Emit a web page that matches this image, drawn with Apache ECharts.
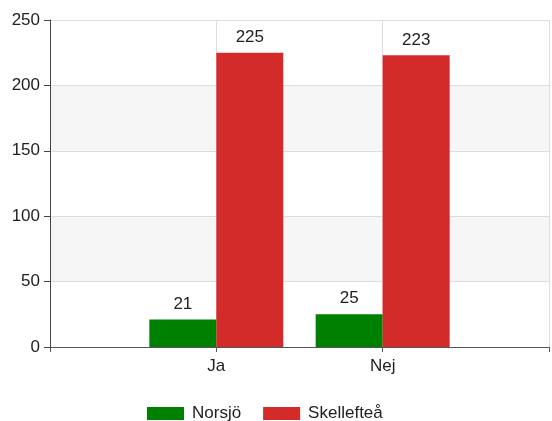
<!DOCTYPE html>
<html>
<head>
<meta charset="utf-8">
<script src="https://cdn.jsdelivr.net/npm/echarts@6/dist/echarts.min.js"></script>
<style>html,body{margin:0;padding:0;background:#fff;overflow:hidden}#c{width:552px;height:421px}</style>
</head>
<body>
<div id="c"></div>
<script>
var categories = ['Ja', 'Nej'];
var seriesNames = ['Norsjö', 'Skellefteå'];
var norsjo = [21, 25];
var skelleftea = [225, 223];
var yTicks = [0, 50, 100, 150, 200, 250];

var axisCats = [''].concat(categories).concat(['']);
function pad(a){ return [null].concat(a).concat([null]); }

var font = '"Liberation Sans", Arial, sans-serif';
var chart = echarts.init(document.getElementById('c'));
chart.setOption({
  animation: false,
  grid: { left: 50, width: 504, top: 20, bottom: 74 },
  legend: {
    left: 142, top: 400,
    itemWidth: 37, itemHeight: 13, itemGap: 22,
    icon: 'rect',
    textStyle: { fontFamily: font, fontSize: 17, color: '#222', padding: [0,0,0,3] },
    data: seriesNames
  },
  xAxis: {
    type: 'category',
    data: axisCats,
    boundaryGap: false,
    axisLine: { lineStyle: { color: '#555', width: 1 } },
    axisTick: { show: true, length: 5, lineStyle: { color: '#555' } },
    axisLabel: { fontFamily: font, fontSize: 17, color: '#222', margin: 11 },
    splitLine: { show: true, lineStyle: { color: '#ddd' } }
  },
  yAxis: {
    type: 'value',
    min: yTicks[0], max: yTicks[yTicks.length-1], interval: 50,
    axisLine: { show: true, lineStyle: { color: '#444' } },
    axisTick: { show: true, length: 6, lineStyle: { color: '#444' } },
    axisLabel: { fontFamily: font, fontSize: 17, color: '#222', margin: 10 },
    splitLine: { show: true, lineStyle: { color: '#ddd' } },
    splitArea: { show: true, areaStyle: { color: ['#ffffff', '#f6f6f6'] } }
  },
  series: [
    {
      name: seriesNames[0], type: 'bar', data: pad(norsjo),
      barWidth: 67, barGap: '0%',
      itemStyle: { color: '#008000' },
      label: { show: true, position: 'top', distance: 7, fontFamily: font, fontSize: 17, color: '#222' }
    },
    {
      name: seriesNames[1], type: 'bar', data: pad(skelleftea),
      barWidth: 67, barGap: '0%',
      itemStyle: { color: '#d32a2a' },
      label: { show: true, position: 'top', distance: 7, fontFamily: font, fontSize: 17, color: '#222' }
    }
  ]
});
</script>
</body>
</html>
